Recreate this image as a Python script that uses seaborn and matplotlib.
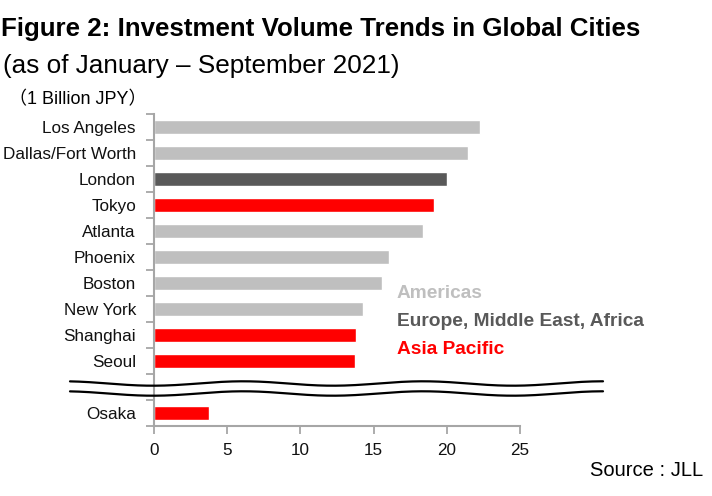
import numpy as np
import pandas as pd
import matplotlib
matplotlib.use("Agg")
import matplotlib.pyplot as plt
import seaborn as sns
from matplotlib.lines import Line2D

cities = ["Los Angeles", "Dallas/Fort Worth", "London", "Tokyo", "Atlanta", "Phoenix",
          "Boston", "New York", "Shanghai", "Seoul", "Osaka"]
values = [22.3, 21.45, 20.0, 19.1, 18.4, 16.05, 15.6, 14.3, 13.8, 13.7, 3.75]
regions = ["Americas", "Americas", "Europe, Middle East, Africa", "Asia Pacific", "Americas",
           "Americas", "Americas", "Americas", "Asia Pacific", "Asia Pacific", "Asia Pacific"]
region_names = ["Americas", "Europe, Middle East, Africa", "Asia Pacific"]
region_colors = ["#bfbfbf", "#595959", "#ff0000"]
order = cities[:10] + [" "] + cities[10:]
xticks = [0, 5, 10, 15, 20, 25]

df = pd.DataFrame({"city": cities, "value": values, "region": regions})
palette = dict(zip(region_names, region_colors))

sns.set_theme(style="white")
plt.rcParams["font.family"] = ["Liberation Sans", "Noto Sans CJK JP", "DejaVu Sans"]

fig = plt.figure(figsize=(7.12, 4.96), dpi=100)
ax = fig.add_axes([154 / 712, 1 - 426 / 496, (520 - 154) / 712, (426 - 114) / 496])

sns.barplot(data=df, y="city", x="value", hue="region", palette=palette, order=order,
            hue_order=region_names, dodge=False, legend=False, width=0.54, ax=ax,
            orient="h", saturation=1)

ax.set_xlim(0, 25)
ax.set_ylim(len(order) - 0.5, -0.5)
ax.set_xticks(xticks)
ax.set_xticklabels([str(t) for t in xticks], fontsize=12.3, color="#111111")
ax.set_yticks(range(len(order)))
ax.set_yticklabels(order, fontsize=12.3, color="#111111")
ax.set_yticks(np.arange(-0.5, len(order), 1), minor=True)
ax.tick_params(axis="y", which="major", length=0, pad=13)
ax.tick_params(axis="y", which="minor", length=6, width=1.3, color="#a6a6a6", left=True)
ax.tick_params(axis="x", which="major", length=6, width=1.3, color="#a6a6a6", bottom=True, pad=6.5)
ax.set_xlabel("")
ax.set_ylabel("")
for s in ["top", "right"]:
    ax.spines[s].set_visible(False)
for s in ["left", "bottom"]:
    ax.spines[s].set_color("#a6a6a6")
    ax.spines[s].set_linewidth(1.5)

# break marks (wavy lines)
xs = np.linspace(70, 603, 300)
for y0 in (383.5, 393.5):
    ys = y0 + 2.2 * np.sin(2 * np.pi * (xs - 288) / 180.0)
    fig.add_artist(Line2D(xs / 712, 1 - ys / 496, color="black", lw=1.6,
                          transform=fig.transFigure))

fig.text(0.001, 1 - 29 / 496, "Figure 2: Investment Volume Trends in Global Cities",
         fontsize=18.6, fontweight="bold", ha="left", va="center", color="black")
fig.text(0.004, 1 - 66 / 496, "(as of January – September 2021)",
         fontsize=18.8, ha="left", va="center", color="black")
fig.text(9 / 712, 1 - 100 / 496, "（1 Billion JPY）",
         fontsize=13, ha="left", va="center", color="black")

for i, (name, col) in enumerate(zip(region_names, region_colors)):
    fig.text(397 / 712, 1 - (294 + 28 * i) / 496, name, fontsize=13.8, fontweight="bold",
             color=col, ha="left", va="center")

fig.text(703 / 712, 1 - 470 / 496, "Source : JLL", fontsize=14.5, ha="right", va="center",
         color="black")

fig.savefig("out.png", dpi=100)
